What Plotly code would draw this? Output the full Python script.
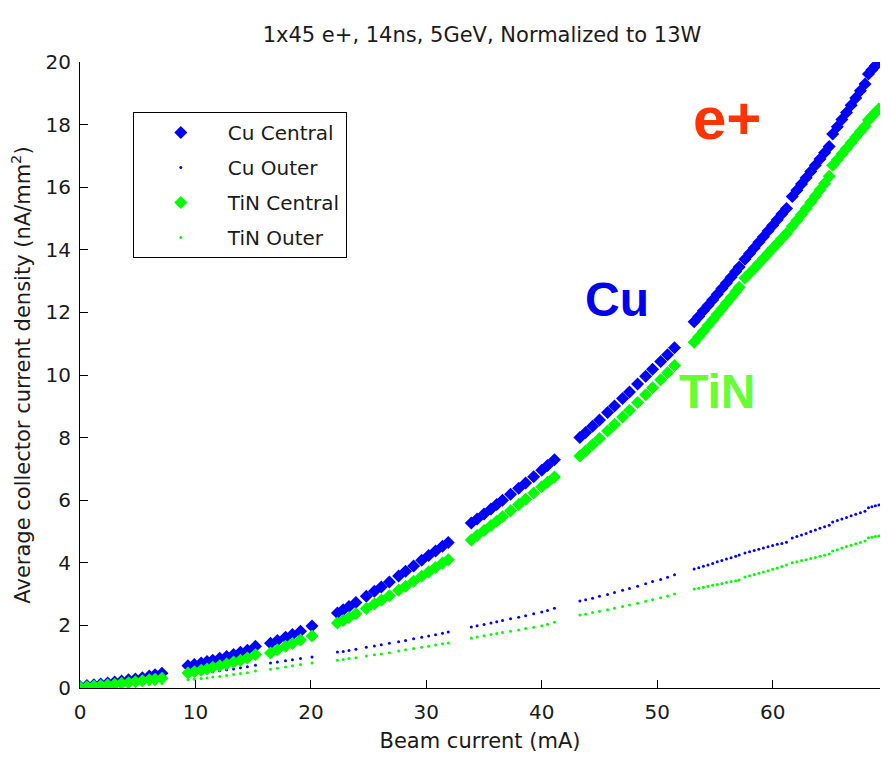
import plotly.graph_objects as go

beam_current = [
    0.0, 0.6, 1.2, 1.8, 2.4, 3.0, 3.6, 4.2, 4.8, 5.4, 6.0, 6.5, 7.1,
    9.35, 9.9, 10.5, 11.0, 11.5, 12.1, 12.7, 13.3, 13.9, 14.5, 15.2,
    16.5, 17.1, 17.8, 18.4, 19.1, 20.1,
    22.3, 22.8, 23.3, 23.9, 24.8, 25.5, 26.1, 26.8, 27.6, 28.2, 28.9, 29.6, 30.2, 30.8, 31.4, 31.9,
    33.9, 34.4, 35.0, 35.6, 36.1, 36.6, 37.3, 38.0, 38.6, 39.3, 40.0, 40.5, 41.1,
    43.3, 43.8, 44.4, 45.0, 45.7, 46.3, 47.0, 47.6, 48.3, 49.0, 49.6, 50.3, 50.9, 51.5,
    53.2, 53.6, 54.0, 54.4, 54.8, 55.2, 55.6, 56.0, 56.4, 56.8, 57.1,
    57.6, 58.0, 58.4, 58.8, 59.2, 59.6, 60.0, 60.4, 60.8, 61.2,
    61.7, 62.1, 62.5, 62.9, 63.3, 63.7, 64.1, 64.5, 64.9,
    65.2, 65.6, 66.0, 66.4, 66.8, 67.2, 67.6, 68.0,
    68.3, 68.6, 68.9, 69.2,
]

cu_central = [
    0.05, 0.08, 0.10, 0.13, 0.16, 0.19, 0.22, 0.26, 0.29, 0.33, 0.38, 0.42, 0.47,
    0.71, 0.75, 0.80, 0.85, 0.89, 0.95, 1.01, 1.07, 1.14, 1.21, 1.33,
    1.43, 1.52, 1.62, 1.71, 1.81, 1.98,
    2.40, 2.50, 2.60, 2.73, 2.93, 3.09, 3.23, 3.39, 3.58, 3.73, 3.90, 4.08, 4.23, 4.38, 4.53, 4.65,
    5.27, 5.40, 5.56, 5.72, 5.86, 6.00, 6.19, 6.38, 6.55, 6.75, 6.96, 7.11, 7.29,
    8.00, 8.16, 8.36, 8.56, 8.80, 9.01, 9.25, 9.46, 9.71, 9.96, 10.18, 10.43, 10.65, 10.87,
    11.70, 11.87, 12.05, 12.22, 12.40, 12.58, 12.76, 12.94, 13.12, 13.31, 13.45,
    13.70, 13.88, 14.06, 14.24, 14.42, 14.60, 14.78, 14.96, 15.14, 15.32,
    15.70, 15.90, 16.10, 16.30, 16.50, 16.70, 16.90, 17.10, 17.30,
    17.70, 17.93, 18.16, 18.39, 18.62, 18.85, 19.08, 19.30,
    19.62, 19.75, 19.88, 20.00,
]

cu_outer = [
    0.01, 0.02, 0.04, 0.05, 0.07, 0.08, 0.10, 0.11, 0.13, 0.15, 0.16, 0.18, 0.20,
    0.40, 0.43, 0.46, 0.49, 0.52, 0.55, 0.58, 0.61, 0.65, 0.68, 0.73,
    0.80, 0.83, 0.87, 0.90, 0.94, 0.99,
    1.15, 1.17, 1.20, 1.24, 1.30, 1.34, 1.38, 1.43, 1.48, 1.52, 1.57, 1.62, 1.66, 1.70, 1.75, 1.79,
    1.95, 1.99, 2.03, 2.08, 2.12, 2.16, 2.21, 2.26, 2.31, 2.37, 2.43, 2.48, 2.55,
    2.78, 2.82, 2.87, 2.93, 2.99, 3.05, 3.12, 3.18, 3.25, 3.33, 3.40, 3.47, 3.54, 3.62,
    3.80, 3.84, 3.89, 3.93, 3.98, 4.03, 4.07, 4.12, 4.16, 4.21, 4.25,
    4.31, 4.35, 4.39, 4.43, 4.47, 4.51, 4.55, 4.59, 4.62, 4.66,
    4.79, 4.84, 4.89, 4.94, 5.00, 5.05, 5.10, 5.15, 5.20,
    5.30, 5.35, 5.40, 5.45, 5.50, 5.55, 5.60, 5.65,
    5.76, 5.79, 5.82, 5.85,
]

tin_central = [
    0.02, 0.04, 0.06, 0.08, 0.10, 0.12, 0.15, 0.17, 0.20, 0.23, 0.26, 0.28, 0.31,
    0.48, 0.52, 0.57, 0.61, 0.66, 0.71, 0.77, 0.83, 0.89, 0.96, 1.07,
    1.12, 1.22, 1.33, 1.42, 1.53, 1.66,
    2.08, 2.16, 2.25, 2.37, 2.54, 2.68, 2.80, 2.95, 3.12, 3.25, 3.41, 3.57, 3.71, 3.85, 3.99, 4.10,
    4.73, 4.87, 5.03, 5.19, 5.33, 5.47, 5.66, 5.86, 6.03, 6.23, 6.43, 6.57, 6.74,
    7.41, 7.57, 7.77, 7.97, 8.21, 8.42, 8.66, 8.87, 9.12, 9.37, 9.59, 9.85, 10.07, 10.30,
    11.05, 11.22, 11.40, 11.58, 11.76, 11.94, 12.12, 12.30, 12.48, 12.66, 12.80,
    13.10, 13.25, 13.40, 13.56, 13.72, 13.88, 14.04, 14.20, 14.36, 14.52,
    14.75, 14.94, 15.13, 15.32, 15.52, 15.72, 15.92, 16.12, 16.35,
    16.70, 16.88, 17.06, 17.24, 17.42, 17.60, 17.78, 17.95,
    18.15, 18.27, 18.39, 18.50,
]

tin_outer = [
    0.01, 0.02, 0.03, 0.04, 0.05, 0.06, 0.07, 0.08, 0.09, 0.10, 0.11, 0.12, 0.14,
    0.26, 0.28, 0.30, 0.32, 0.35, 0.37, 0.40, 0.43, 0.46, 0.49, 0.54,
    0.60, 0.63, 0.67, 0.71, 0.75, 0.80,
    0.89, 0.91, 0.94, 0.97, 1.02, 1.06, 1.09, 1.13, 1.18, 1.22, 1.26, 1.30, 1.33, 1.37, 1.41, 1.44,
    1.60, 1.63, 1.67, 1.71, 1.74, 1.77, 1.81, 1.85, 1.90, 1.94, 1.99, 2.04, 2.10,
    2.33, 2.36, 2.41, 2.45, 2.50, 2.55, 2.60, 2.65, 2.71, 2.77, 2.82, 2.88, 2.94, 3.00,
    3.16, 3.19, 3.22, 3.25, 3.28, 3.31, 3.34, 3.37, 3.40, 3.43, 3.45,
    3.55, 3.59, 3.63, 3.67, 3.71, 3.75, 3.79, 3.83, 3.88, 3.93,
    4.00, 4.03, 4.07, 4.10, 4.14, 4.17, 4.21, 4.24, 4.28,
    4.38, 4.42, 4.47, 4.52, 4.56, 4.61, 4.65, 4.70,
    4.80, 4.82, 4.84, 4.86,
]

x_ticks = [0, 10, 20, 30, 40, 50, 60]
y_ticks = [0, 2, 4, 6, 8, 10, 12, 14, 16, 18, 20]

BLUE = "#0000FF"
GREEN = "#00FF00"
FONT = "DejaVu Sans, Liberation Sans, sans-serif"
BOLD = "Liberation Sans, Arial, sans-serif"

fig = go.Figure()
fig.add_trace(go.Scatter(x=beam_current, y=cu_central, mode="markers", name="Cu Central",
                         legendgroup="a",
                         marker=dict(symbol="diamond", size=10, color=BLUE, line=dict(width=0))))
fig.add_trace(go.Scatter(x=beam_current, y=cu_outer, mode="markers", name="Cu Outer",
                         legendgroup="b",
                         marker=dict(symbol="circle", size=3, color=BLUE, line=dict(width=0))))
fig.add_trace(go.Scatter(x=beam_current, y=tin_central, mode="markers", name="TiN Central",
                         legendgroup="c",
                         marker=dict(symbol="diamond", size=10, color=GREEN, line=dict(width=0))))
fig.add_trace(go.Scatter(x=beam_current, y=tin_outer, mode="markers", name="TiN Outer",
                         legendgroup="d",
                         marker=dict(symbol="circle", size=3, color=GREEN, line=dict(width=0))))

fig.add_annotation(x=0.809, y=0.909, xref="paper", yref="paper", text="<b>e+</b>",
                   xanchor="center", yanchor="middle", showarrow=False,
                   font=dict(family=BOLD, size=60, color="#FF3300"))
fig.add_annotation(x=0.671, y=0.620, xref="paper", yref="paper", text="<b>Cu</b>",
                   xanchor="center", yanchor="middle", showarrow=False,
                   font=dict(family=BOLD, size=48, color="#0000EE"))
fig.add_annotation(x=0.796, y=0.474, xref="paper", yref="paper", text="<b>TiN</b>",
                   xanchor="center", yanchor="middle", showarrow=False,
                   font=dict(family=BOLD, size=48, color="#66FF33"))

fig.update_layout(
    width=891, height=771,
    margin=dict(l=80, r=11, t=62, b=83),
    paper_bgcolor="white", plot_bgcolor="white",
    font=dict(family=FONT, size=20, color="#1a1a1a"),
    title=dict(text="1x45 e+, 14ns, 5GeV, Normalized to 13W", x=0.541, xanchor="center",
               y=0.955, yanchor="middle", font=dict(size=21)),
    showlegend=True,
    legend=dict(x=0.066, y=0.92, xanchor="left", yanchor="top",
                bgcolor="white", bordercolor="black", borderwidth=1,
                font=dict(size=20), tracegroupgap=6, itemwidth=84),
)
fig.update_xaxes(range=[0, 69.3], tickvals=x_ticks, ticks="inside", ticklen=8,
                 tickcolor="black", showline=True, linecolor="black", linewidth=1,
                 showgrid=False, zeroline=False, tickfont=dict(size=20),
                 ticklabelstandoff=6,
                 title=dict(text="Beam current (mA)", font=dict(size=21), standoff=10))
fig.update_yaxes(range=[0, 20], tickvals=y_ticks, ticks="inside", ticklen=8,
                 tickcolor="black", showline=True, linecolor="black", linewidth=1,
                 showgrid=False, zeroline=False, tickfont=dict(size=20),
                 ticklabelstandoff=4,
                 title=dict(text="Average collector current density (nA/mm<sup>2</sup>)",
                            font=dict(size=21), standoff=9))

fig.write_html("out.html")
